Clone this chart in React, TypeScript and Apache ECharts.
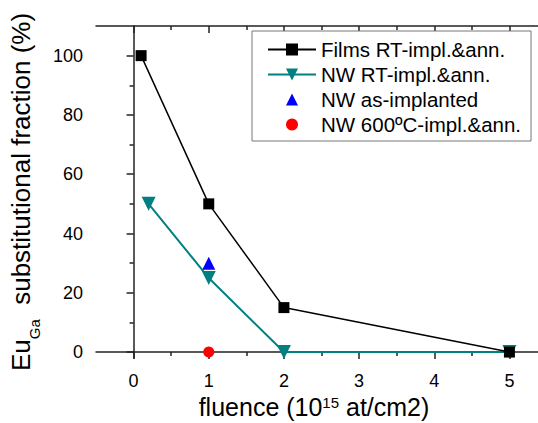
import React, { useEffect, useRef } from 'react';
import * as echarts from 'echarts';

const FONT = '"Liberation Sans", Arial, Helvetica, sans-serif';

const filmsX = [0.1, 1, 2, 5];
const filmsY = [100, 50, 15, 0];
const nwX = [0.2, 1, 2, 5];
const nwY = [50, 25, 0, 0];
const asImplX = [1];
const asImplY = [30];
const hotX = [1];
const hotY = [0];

const xMajor = [0, 1, 2, 3, 4, 5];
const xMinor = [0.5, 1.5, 2.5, 3.5, 4.5];
const yMajor = [0, 20, 40, 60, 80, 100];
const yMinor = [10, 30, 50, 70, 90];

const seriesNames = ['Films RT-impl.&ann.', 'NW RT-impl.&ann.', 'NW as-implanted', 'NW 600ºC-impl.&ann.'];

const zip = (xs: number[], ys: number[]) => xs.map((x, i) => [x, ys[i]]);

export default function App() {
  const ref = useRef<HTMLDivElement>(null);
  useEffect(() => {
    if (!ref.current) return;
    const chart = echarts.init(ref.current, undefined, { renderer: 'svg' });
    const axisColor = '#222';
    const gridBox = { left: 96, top: 26, width: 451, height: 332, containLabel: false, outerBoundsMode: 'none' };
    const xBase = { type: 'value', min: -0.5, max: 5.5, splitLine: { show: false } };
    const yBase = { type: 'value', min: -2, max: 110, splitLine: { show: false } };
    const option: any = {
      animation: false,
      backgroundColor: '#fff',
      grid: [{ ...gridBox }, { ...gridBox }],
      xAxis: [
        {
          ...xBase,
          gridIndex: 0,
          position: 'bottom',
          axisLine: { lineStyle: { color: axisColor, width: 1.5 } },
          axisTick: { customValues: xMajor, length: 7, lineStyle: { color: axisColor, width: 1.5 } },
          axisLabel: { customValues: xMajor, fontSize: 18, fontFamily: FONT, color: '#000', margin: 14 },
          name: '{a|fluence (10}{s|15}{a| at/cm2)}',
          nameLocation: 'middle',
          nameGap: 36,
          nameTextStyle: {
            fontFamily: FONT,
            color: '#000',
            padding: [0, 15, 0, 0],
            rich: {
              a: { fontSize: 25, lineHeight: 25, fontFamily: FONT, color: '#000', verticalAlign: 'bottom' },
              s: { fontSize: 15, lineHeight: 4, fontFamily: FONT, color: '#000', verticalAlign: 'top' },
            },
          },
        },
        {
          ...xBase,
          gridIndex: 0,
          position: 'top',
          axisLine: { lineStyle: { color: axisColor, width: 1.5 } },
          axisTick: { customValues: xMajor, inside: true, length: 7, lineStyle: { color: axisColor, width: 1.5 } },
          axisLabel: { show: false },
        },
        {
          ...xBase,
          gridIndex: 1,
          position: 'bottom',
          axisLine: { show: false },
          axisTick: { customValues: xMinor, length: 4, lineStyle: { color: axisColor, width: 1.5 } },
          axisLabel: { show: false },
        },
        {
          ...xBase,
          gridIndex: 1,
          position: 'top',
          axisLine: { show: false },
          axisTick: { customValues: xMinor, inside: true, length: 4, lineStyle: { color: axisColor, width: 1.5 } },
          axisLabel: { show: false },
        },
      ],
      yAxis: [
        {
          ...yBase,
          gridIndex: 0,
          position: 'left',
          axisLine: { show: true, lineStyle: { color: axisColor, width: 1.5 } },
          axisTick: { show: true, customValues: yMajor, length: 7, lineStyle: { color: axisColor, width: 1.5 } },
          axisLabel: { customValues: yMajor, fontSize: 18, fontFamily: FONT, color: '#000', margin: 13 },
          name: '{a|Eu}{b|Ga}{a|  substitutional fraction (%)}',
          nameLocation: 'middle',
          nameRotate: 90,
          nameGap: 50,
          nameTextStyle: {
            fontFamily: FONT,
            color: '#000',
            rich: {
              a: { fontSize: 26, lineHeight: 26, fontFamily: FONT, color: '#000', verticalAlign: 'top' },
              b: { fontSize: 15, lineHeight: 15, fontFamily: FONT, color: '#000', verticalAlign: 'top', padding: [19, 0, 0, 0] },
            },
          },
        },
        {
          ...yBase,
          gridIndex: 1,
          position: 'left',
          axisLine: { show: false },
          axisTick: { show: true, customValues: yMinor, length: 4, lineStyle: { color: axisColor, width: 1.5 } },
          axisLabel: { show: false },
        },
      ],
      legend: {
        data: seriesNames,
        orient: 'vertical',
        left: 252,
        top: 31,
        itemWidth: 48,
        itemHeight: 15,
        itemGap: 4,
        padding: [8, 10, 6, 15],
        borderColor: '#777',
        borderWidth: 1,
        backgroundColor: '#fff',
        selectedMode: false,
        textStyle: { fontSize: 20.5, fontFamily: FONT, color: '#000' },
      },
      series: [
        {
          name: seriesNames[1],
          type: 'line',
          xAxisIndex: 0,
          yAxisIndex: 0,
          data: zip(nwX, nwY),
          symbol: 'triangle',
          symbolRotate: 180,
          symbolSize: 14,
          itemStyle: { color: '#008080' },
          lineStyle: { color: '#008080', width: 2 },
          z: 2,
        },
        {
          name: seriesNames[0],
          type: 'line',
          xAxisIndex: 0,
          yAxisIndex: 0,
          data: zip(filmsX, filmsY),
          symbol: 'rect',
          symbolSize: 11,
          itemStyle: { color: '#000' },
          lineStyle: { color: '#000', width: 1.5 },
          z: 3,
        },
        {
          name: seriesNames[2],
          type: 'line',
          xAxisIndex: 0,
          yAxisIndex: 0,
          data: zip(asImplX, asImplY),
          symbol: 'triangle',
          symbolSize: 13,
          showSymbol: true,
          itemStyle: { color: '#0000ff' },
          lineStyle: { opacity: 0, width: 0 },
          z: 4,
        },
        {
          name: seriesNames[3],
          type: 'line',
          xAxisIndex: 0,
          yAxisIndex: 0,
          data: zip(hotX, hotY),
          symbol: 'circle',
          symbolSize: 11,
          showSymbol: true,
          itemStyle: { color: '#ff0000' },
          lineStyle: { opacity: 0, width: 0 },
          z: 4,
        },
      ],
    };
    chart.setOption(option);
    return () => chart.dispose();
  }, []);
  return <div ref={ref} style={{ position: 'absolute', left: 0, top: 0, width: 538, height: 423 }} />;
}
